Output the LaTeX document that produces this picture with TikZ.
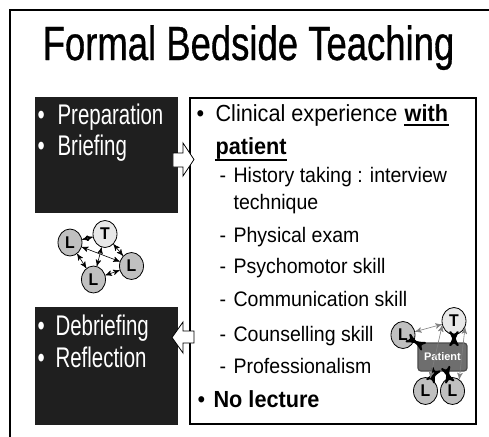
\documentclass[tikz,border=0pt]{standalone}
\usepackage{fontspec}
\setmainfont{Liberation Sans}
\newfontfamily\titlefont[FakeStretch=0.76,FakeBold=0.7]{Liberation Sans}
\newfontfamily\darkfont[FakeStretch=0.72]{Liberation Sans}
\newfontfamily\boxfont[FakeStretch=0.93]{Liberation Sans}
\usepackage{tikz}
\usetikzlibrary{arrows,shapes.geometric}
\definecolor{slidedark}{HTML}{1F1F1F}
\definecolor{learnergray}{HTML}{C0C0C0}
\definecolor{teachergray}{HTML}{E8E8E8}
\definecolor{patientgray}{HTML}{6E6E6E}

\begin{document}
\begin{tikzpicture}[x=0.5pt,y=-0.5pt,>=stealth',semithick,
  darkbox/.style={fill=slidedark,draw=slidedark,anchor=north west},
  darktext/.style={anchor=base west,inner sep=0,text=white,
                   font=\darkfont\fontsize{14.2}{17}\selectfont},
  itemtext/.style={anchor=base west,inner sep=0,
                   font=\boxfont\fontsize{11.65}{14}\selectfont},
  subtext/.style={anchor=base west,inner sep=0,
                  font=\boxfont\fontsize{10.5}{13}\selectfont},
  underl/.style={line width=0.9pt},
  learner/.style={ellipse,draw,thin,fill=learnergray,minimum width=12pt,
                  minimum height=13.5pt,inner sep=0,
                  font=\boxfont\bfseries\fontsize{8.5}{9}\selectfont},
  teacher/.style={learner,fill=teachergray},
  thinlink/.style={<->,line width=0.3pt},
  thicklink/.style={<->,line width=1pt},
  greylink/.style={<->,line width=0.3pt,draw=gray}]
%  \tikzstyle{every node}=[draw=red]

  \clip (0,0) rectangle (489,436);
  \draw[line width=0.75pt] (10,10) rectangle (520,470);

  \node[font=\titlefont\fontsize{24}{28}\selectfont,anchor=base,inner sep=0]
       (title) at (248.5,60) {Formal Bedside Teaching};

  % boxes
  \node[darkbox,minimum width=71pt,minimum height=57.5pt] (prep) at (35,97) {};
  \node[darkbox,minimum width=71pt,minimum height=58.5pt] (debrief) at (35,307) {};
  \node[draw,line width=1pt,fill=white,anchor=north west,minimum width=143pt,
        minimum height=163pt] (clinic) at (189,97) {};

  % block arrows
  \draw[thin,fill=white] (173,153) -- (183,153) -- (183,143) -- (194,159.5)
        -- (183,176) -- (183,167) -- (173,167) -- cycle;
  \draw[thin,fill=white] (194,331) -- (183,331) -- (183,322) -- (172,337.5)
        -- (183,353) -- (183,343) -- (194,343) -- cycle;

  \node[darktext] (b1) at (37,124) {•};
  \node[darktext] (preptxt) at (57,124) {Preparation};
  \node[darktext] (b2) at (37,155) {•};
  \node[darktext] (brieftxt) at (57,155) {Briefing};
  \node[darktext] (b3) at (37,335) {•};
  \node[darktext] (debrieftxt) at (55,335) {Debriefing};
  \node[darktext] (b4) at (37,367) {•};
  \node[darktext] (refltxt) at (55,367) {Reflection};

  \node[itemtext] (b5) at (196,121) {•};
  \node[itemtext] (clin) at (215,121) {Clinical experience};
  \node[itemtext] (with) at ([xshift=3pt]clin.base east) {\textbf{with}};
  \node[itemtext] (pat) at (215,154) {\textbf{patient}};
  \draw[underl] ([yshift=-2pt]with.base west) -- ([yshift=-2pt]with.base east);
  \draw[underl] ([yshift=-3pt]pat.base west) -- ([yshift=-3pt]pat.base east);
  \node[subtext] (d1) at (219,182) {-};
  \node[subtext] (hist) at (233,182) {History taking : interview};
  \node[subtext] (tech) at (233,209) {technique};
  \node[subtext] (d2) at (219,242) {-};
  \node[subtext] (phys) at (233,242) {Physical exam};
  \node[subtext] (d3) at (219,273) {-};
  \node[subtext] (psych) at (233,273) {Psychomotor skill};
  \node[subtext] (d4) at (219,306) {-};
  \node[subtext] (comm) at (233,306) {Communication skill};
  \node[subtext] (d5) at (219,341) {-};
  \node[subtext] (couns) at (233,341) {Counselling skill};
  \node[subtext] (d6) at (219,373) {-};
  \node[subtext] (prof) at (233,373) {Professionalism};
  \node[itemtext] (b6) at (197,407) {•};
  \node[itemtext] (nolec) at (213,407) {\textbf{No lecture}};

  % learners around the teacher
  \node[learner] (L1) at (70,242.5) {L};
  \node[teacher] (T1) at (105,234) {T};
  \node[learner] (L2) at (93.5,279.5) {L};
  \node[learner] (L3) at (131.5,266) {L};

  \path (L1) edge[thinlink] (T1)
             edge[thinlink] (L2)
             edge[thinlink] (L3)
        (T1) edge[thinlink] (L2)
             edge[thinlink] (L3)
        (L2) edge[thinlink] (L3);

  % learners around the patient
  \node[teacher] (T2) at (454,321) {T};
  \node[learner] (L4) at (403,335) {L};
  \node[draw=black!70,fill=patientgray,rounded corners=1.5pt,minimum width=24.5pt,
        minimum height=14pt,inner sep=0,text=white,
        font=\bfseries\fontsize{5.5}{6}\selectfont] (P) at (442.5,357) {Patient};
  \node[learner] (L5) at (425.5,391) {L};
  \node[learner] (L6) at (452.5,391) {L};

  \path (L4) edge[greylink] (T2)
        (L4) edge[thicklink] (P)
        (T2.south) edge[thicklink] (T2.south |- P.north)
        (P) edge[thicklink] (L5)
            edge[thicklink] (L6)
        (T2.200) edge[greylink] (L5.70)
        (T2.330) edge[greylink] (L6.60);

\end{tikzpicture}
\end{document}
